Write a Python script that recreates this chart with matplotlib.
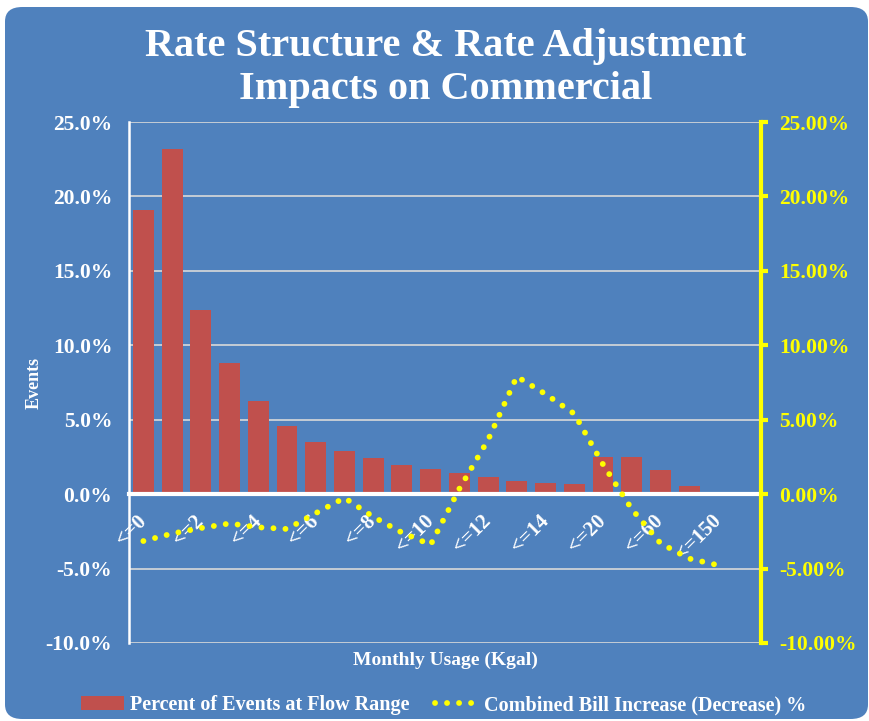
import numpy as np
import matplotlib
matplotlib.use("Agg")
import matplotlib.pyplot as plt
from matplotlib.patches import FancyBboxPatch, Patch
from matplotlib.lines import Line2D
from matplotlib.ticker import FuncFormatter, MultipleLocator
from matplotlib.transforms import ScaledTranslation

plt.rcParams['font.family'] = ['Liberation Serif', 'DejaVu Serif']
plt.rcParams['font.weight'] = 'bold'

categories = ['<=0', '<=1', '<=2', '<=3', '<=4', '<=5', '<=6', '<=7', '<=8', '<=9',
              '<=10', '<=11', '<=12', '<=13', '<=14', '<=16', '<=20', '<=40', '<=60',
              '<=100', '<=150', '>150']
pct_events = [19.1, 23.2, 12.4, 8.8, 6.25, 4.55, 3.5, 2.9, 2.4, 1.95,
              1.7, 1.4, 1.12, 0.85, 0.75, 0.68, 2.47, 2.47, 1.6, 0.55,
              0.05, 0.14]
bill_change = [-3.15, -2.65, -2.28, -1.97, -2.23, -2.34, -1.28, -0.25, -1.52, -2.58,
               -3.40, 0.36, 3.65, 7.9, 6.72, 5.4, 2.0, -1.0, -3.3, -4.33,
               -4.77, np.nan]

blue = '#4F81BD'
red = '#C0504D'
yellow = '#FFFF00'
grid_col = '#D9D9D9'
dots = (0, (0.01, 2.05))

fig = plt.figure(figsize=(8.7, 7.21), dpi=100)
fig.patch.set_facecolor('white')
panel = FancyBboxPatch((5 / 870, 2 / 721), 863 / 870, 712 / 721,
                       boxstyle='round,pad=0,rounding_size=0.02',
                       transform=fig.transFigure, facecolor=blue, edgecolor='none',
                       zorder=-5)
fig.add_artist(panel)

ax = fig.add_axes([129 / 870, 1 - 643 / 721, 632 / 870, 521 / 721])
ax.set_facecolor('none')
x = np.arange(len(categories))
ax.bar(x, pct_events, width=0.73, color=red, zorder=2)
ax.set_xlim(-0.5, len(categories) - 0.5)
ax.set_ylim(-10, 25)
ax.yaxis.set_major_locator(MultipleLocator(5))
ax.yaxis.set_major_formatter(FuncFormatter(lambda v, p: f'{v:.1f}%'))
ax.grid(axis='y', color=grid_col, linewidth=1.2, zorder=1)
ax.set_axisbelow(True)
ax.tick_params(axis='y', length=0, pad=12, labelsize=15.5, labelcolor='white')

ax.spines['top'].set_visible(False)
ax.spines['right'].set_visible(False)
ax.spines['left'].set_color('white')
ax.spines['left'].set_linewidth(1.8)
ax.spines['bottom'].set_position(('data', 0))
ax.spines['bottom'].set_color('white')
ax.spines['bottom'].set_linewidth(3)
ax.spines['bottom'].set_zorder(3)

ax.set_xticks(x)
ax.set_xticklabels([c if i % 2 == 0 else '' for i, c in enumerate(categories)],
                   rotation=45, ha='right', va='top')
ax.tick_params(axis='x', length=0, pad=12, labelsize=15, labelcolor='white')
shift = ScaledTranslation(0.07, 0, fig.dpi_scale_trans)
for lab in ax.get_xticklabels():
    lab.set_transform(lab.get_transform() + shift)

ax.set_ylabel('Events', color='white', fontsize=13, fontweight='bold', labelpad=2)
ax.text(0.5, -0.033, 'Monthly Usage (Kgal)', transform=ax.transAxes,
        ha='center', va='center', color='white', fontsize=14)

ax2 = ax.twinx()
ax2.set_ylim(-10, 25)
ax2.yaxis.set_major_locator(MultipleLocator(5))
ax2.yaxis.set_major_formatter(FuncFormatter(lambda v, p: f'{v:.2f}%'))
ax2.plot(x, bill_change, color=yellow, linewidth=4.2,
         linestyle=dots, dash_capstyle='round', zorder=4)
for s in ['top', 'left', 'bottom']:
    ax2.spines[s].set_visible(False)
ax2.spines['right'].set_color(yellow)
ax2.spines['right'].set_linewidth(3)
ax2.tick_params(axis='y', colors=yellow, width=3, length=5, labelsize=15.5, pad=8)

fig.text(0.512, 0.935, 'Rate Structure & Rate Adjustment', ha='center', va='center',
         color='white', fontsize=29)
fig.text(0.512, 0.876, 'Impacts on Commercial', ha='center', va='center',
         color='white', fontsize=29)

handles = [Patch(facecolor=red, edgecolor='none'),
           Line2D([0], [0], color=yellow, linewidth=4.2, linestyle=dots,
                  dash_capstyle='round')]
leg = fig.legend(handles, ['Percent of Events at Flow Range',
                           'Combined Bill Increase (Decrease) %'],
                 loc='center', bbox_to_anchor=(0.510, 0.022), ncol=2, frameon=False,
                 fontsize=14.5, labelcolor='white', handlelength=2.1,
                 handletextpad=0.3, columnspacing=1.3)

fig.savefig('out.png', dpi=100, facecolor=fig.get_facecolor())
